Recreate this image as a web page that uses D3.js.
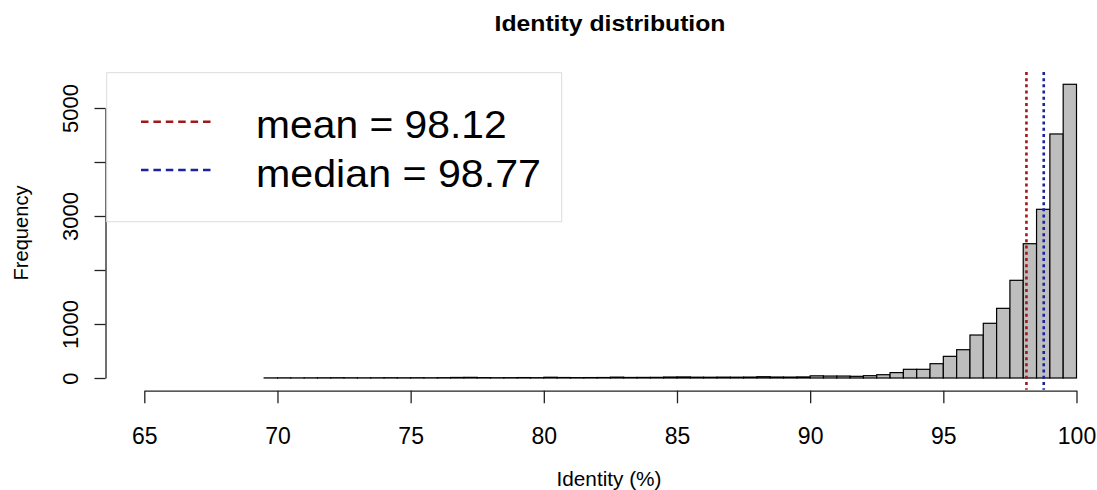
<!DOCTYPE html>
<html>
<head>
<meta charset="utf-8">
<script src="https://d3js.org/d3.v7.min.js"></script>
<style>
  body { margin: 0; background: #fff; }
  text { font-family: "Liberation Sans", Arial, Helvetica, sans-serif; fill: #000; }
</style>
</head>
<body>
<script>
// histogram bins (left edge, width 0.5) and counts
var binStart = 69.5, binWidth = 0.5;
var counts = [2, 3, 2, 3, 4, 5, 4, 3, 4, 5,
              4, 5, 4, 6, 10, 12, 7, 5, 6, 8,
              6, 14, 9, 7, 8, 9, 16, 10, 11, 12,
              18, 20, 15, 14, 16, 15, 17, 24, 18, 17,
              20, 40, 36, 36, 31, 43, 61, 100, 161, 161,
              265, 401, 524, 796, 1013, 1290, 1809, 2487, 3124, 4519,
              5439];
var xTicks = [65, 70, 75, 80, 85, 90, 95, 100];
var yTicks = [0, 1000, 2000, 3000, 4000, 5000];
var yLabels = [0, 1000, 3000, 5000];
var stats = [{name: "mean", value: 98.12, color: "#a01818"},
             {name: "median", value: 98.77, color: "#1a22a0"}];

var bins = counts.map(function(c, i) {
  return {x0: binStart + i * binWidth, x1: binStart + (i + 1) * binWidth, n: c};
});

var W = 1097, H = 490;
var svg = d3.select("body").append("svg").attr("width", W).attr("height", H);

var x = d3.scaleLinear().domain([65, 100]).range([144.3, 1076.5]);
var y = d3.scaleLinear().domain([0, 5000]).range([378, 108]);

// bars
svg.append("g").selectAll("rect")
  .data(bins)
  .enter().append("rect")
    .attr("x", function(d) { return x(d.x0); })
    .attr("width", function(d) { return x(d.x1) - x(d.x0); })
    .attr("y", function(d) { return y(d.n); })
    .attr("height", function(d) { return y(0) - y(d.n); })
    .attr("fill", "#bebebe")
    .attr("stroke", "#000")
    .attr("stroke-width", 1.2);

// mean / median lines across the plot region
var ext = 5450 * 0.04;
svg.append("g").selectAll("line")
  .data(stats)
  .enter().append("line")
    .attr("x1", function(d) { return x(d.value); })
    .attr("x2", function(d) { return x(d.value); })
    .attr("y1", y(5450 + ext))
    .attr("y2", y(-ext))
    .attr("stroke", function(d) { return d.color; })
    .attr("stroke-width", 2.6)
    .attr("stroke-dasharray", "3,3.2");

// x axis
var xAxis = d3.axisBottom(x).tickValues(xTicks).tickSize(12.6).tickSizeOuter(0);
var gx = svg.append("g")
  .attr("transform", "translate(0,390.7)")
  .call(xAxis);
gx.select(".domain").attr("stroke", "#222").attr("stroke-width", 1.3);
gx.selectAll(".tick line").attr("stroke", "#222").attr("stroke-width", 1.3);
gx.selectAll(".tick text")
  .attr("font-size", "23px")
  .attr("font-family", "Liberation Sans, Arial, sans-serif")
  .attr("fill", "#000")
  .attr("y", 53.5)
  .attr("dy", null);

// y axis
var yAxis = d3.axisLeft(y).tickValues(yTicks).tickSize(11).tickSizeOuter(0)
  .tickFormat(function(d) { return yLabels.indexOf(d) >= 0 ? d : ""; });
var gy = svg.append("g")
  .attr("transform", "translate(105.5,0)")
  .call(yAxis);
gy.select(".domain").attr("stroke", "#222").attr("stroke-width", 1.3);
gy.selectAll(".tick line").attr("stroke", "#222").attr("stroke-width", 1.3);
gy.selectAll(".tick text")
  .attr("font-size", "22px")
  .attr("font-family", "Liberation Sans, Arial, sans-serif")
  .attr("fill", "#000")
  .attr("text-anchor", "middle")
  .attr("x", null)
  .attr("dy", null)
  .attr("transform", "translate(-27.5,0) rotate(-90)");

// legend
var lg = svg.append("g");
lg.append("rect")
  .attr("x", 106.7).attr("y", 72.7)
  .attr("width", 455).attr("height", 149)
  .attr("fill", "#fff")
  .attr("stroke", "#dcdcdc")
  .attr("stroke-width", 1);
var legY = [121.7, 170];
var legText = [137.5, 186.5];
var legLen = [250.7, 285];
stats.forEach(function(s, i) {
  lg.append("line")
    .attr("x1", 141).attr("x2", 211)
    .attr("y1", legY[i]).attr("y2", legY[i])
    .attr("stroke", s.color)
    .attr("stroke-width", 2.6)
    .attr("stroke-dasharray", "7.5,4.9");
  lg.append("text")
    .attr("x", 256).attr("y", legText[i])
    .attr("font-size", "39px")
    .attr("textLength", legLen[i])
    .attr("lengthAdjust", "spacingAndGlyphs")
    .text(s.name + " = " + s.value.toFixed(2));
});

// titles
svg.append("text")
  .attr("x", 610).attr("y", 31)
  .attr("text-anchor", "middle")
  .attr("font-size", "22px")
  .attr("font-weight", "bold")
  .attr("textLength", 231)
  .attr("lengthAdjust", "spacingAndGlyphs")
  .text("Identity distribution");

svg.append("text")
  .attr("x", 609).attr("y", 486)
  .attr("text-anchor", "middle")
  .attr("font-size", "20px")
  .attr("textLength", 105)
  .attr("lengthAdjust", "spacingAndGlyphs")
  .text("Identity (%)");

svg.append("text")
  .attr("transform", "translate(28,233) rotate(-90)")
  .attr("text-anchor", "middle")
  .attr("font-size", "21px")
  .attr("textLength", 95)
  .attr("lengthAdjust", "spacingAndGlyphs")
  .text("Frequency");
</script>
</body>
</html>
